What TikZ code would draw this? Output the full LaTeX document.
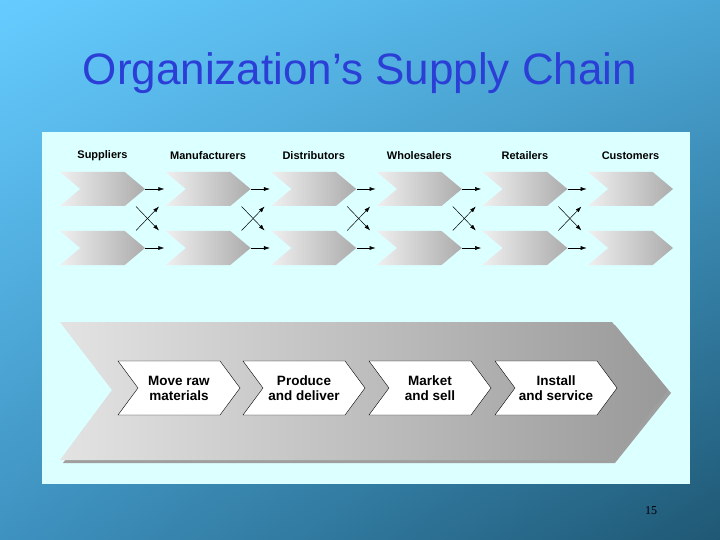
\documentclass[tikz,border=0pt]{standalone}
\usepackage{fontspec}
\setmainfont{Liberation Sans}
\newfontfamily\pagefont{Liberation Serif}
\usetikzlibrary{shapes.symbols,arrows.meta,shadings}
\definecolor{bgtl}{HTML}{66CCFF}
\definecolor{bgtr}{HTML}{4AA6D6}
\definecolor{bgbl}{HTML}{3E92C0}
\definecolor{bgbr}{HTML}{1F5874}
\definecolor{panel}{HTML}{DCFFFF}
\definecolor{titleblue}{HTML}{2B3FD6}
\begin{document}
\begin{tikzpicture}[x=1pt,y=-1pt,
    chev/.style={signal, signal from=west, signal to=east, signal pointer angle=80,
      minimum width=85pt, minimum height=34pt, inner sep=0pt,
      left color=gray!12, right color=gray!65},
    step box/.style={signal, signal from=west, signal to=east, signal pointer angle=107,
      minimum width=122pt, minimum height=54pt, inner sep=0pt, draw=black, line width=0.4pt,
      fill=white, align=center, font=\bfseries\fontsize{13.5}{15}\selectfont},
    head/.style={font=\bfseries\fontsize{11}{12}\selectfont},
    flow/.style={-{Latex[length=6pt,width=4pt]}, line width=0.5pt}]
  \useasboundingbox (0,0) rectangle (720,540);
  \shade[upper left=bgtl, upper right=bgtr, lower left=bgbl, lower right=bgbr] (0,0) rectangle (720,540);
  \node[text=titleblue, font=\fontsize{44}{48}\selectfont] (title) at (360,73) {Organization’s Supply Chain};
  \fill[panel] (42,132) rectangle (690,484);

  % top rows
  \foreach \i/\name in {0/Suppliers,1/Manufacturers,2/Distributors,3/Wholesalers,4/Retailers,5/Customers} {
    \node[head] (h\i) at (102.5+105.6*\i,156) {\name};
    \node[chev] (a\i) at (102.5+105.6*\i,189) {};
    \node[chev] (b\i) at (102.5+105.6*\i,248) {};
  }
  \foreach \i in {0,...,4} {
    \coordinate (x\i) at (148+105.6*\i,218.5);
    \draw[flow] (a\i.east) -- ++(19,0) coordinate (ae\i);
    \draw[flow] (b\i.east) -- ++(19,0) coordinate (be\i);
    \draw[flow] ([shift={(-12,-12)}]x\i) -- ([shift={(11,12)}]x\i);
    \draw[flow] ([shift={(-12,12)}]x\i) -- ([shift={(11,-12)}]x\i);
  }

  % big chevron
  \fill[gray!75] (63,325) -- (615,325) -- (671,393) -- (615,463) -- (63,463) -- (115,393) -- cycle;
  \shade[left color=gray!22, right color=gray!80] (60,322) -- (612,322) -- (668,390) -- (612,460) -- (60,460) -- (112,390) -- cycle;

  \node[step box] (s1) at (179,388) {Move raw\\materials};
  \node[step box] (s2) at (304,388) {Produce\\and deliver};
  \node[step box] (s3) at (430,388) {Market\\and sell};
  \node[step box] (s4) at (556,388) {Install\\and service};

  \node[font=\pagefont\fontsize{12}{14}\selectfont] (page) at (651,511) {15};
\end{tikzpicture}
\end{document}
